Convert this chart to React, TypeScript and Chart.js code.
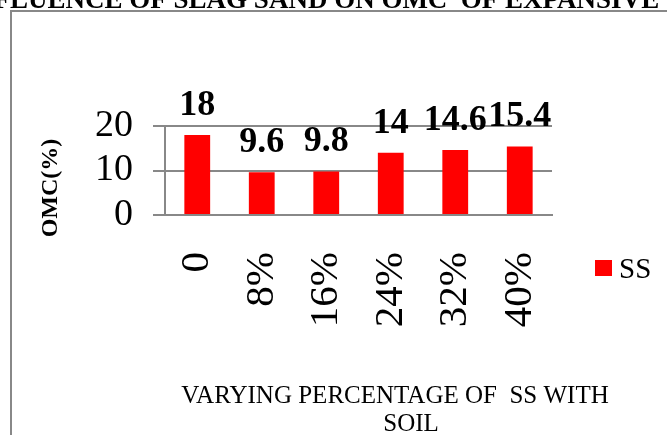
import React, { useEffect, useRef } from "react";
import { Chart, registerables } from "chart.js";

Chart.register(...registerables);

const categories = ["0", "8%", "16%", "24%", "32%", "40%"];
const ssValues = [18, 9.6, 9.8, 14, 14.6, 15.4];
const yMin = 0;
const yMax = 20;
const yStep = 10;
const seriesName = "SS";
const chartTitle = "INFLUENCE OF SLAG SAND ON OMC  OF EXPANSIVE SOIL";
const yTitle = "OMC(%)";
const xTitleLines = ["VARYING PERCENTAGE OF  SS WITH", "SOIL"];

const SERIF = "'Liberation Serif', 'Times New Roman', Times, serif";
const GRAY = "#888888";
const RED = "#FF0000";

const decorPlugin = {
  id: "decor",
  beforeDraw(chart: any) {
    const ctx = chart.ctx;
    ctx.save();
    ctx.strokeStyle = GRAY;
    ctx.lineWidth = 2;
    ctx.beginPath();
    ctx.moveTo(11, 460);
    ctx.lineTo(11, 11);
    ctx.lineTo(700, 11);
    ctx.stroke();
    ctx.fillStyle = "#000";
    ctx.font = `bold 27px ${SERIF}`;
    ctx.textAlign = "center";
    ctx.textBaseline = "alphabetic";
    ctx.fillText(chartTitle, 347, 8);
    ctx.restore();
  },
  afterDatasetsDraw(chart: any) {
    const ctx = chart.ctx;
    const meta = chart.getDatasetMeta(0);
    ctx.save();
    ctx.fillStyle = "#000";
    ctx.font = `bold 36px ${SERIF}`;
    ctx.textAlign = "center";
    ctx.textBaseline = "alphabetic";
    meta.data.forEach((bar: any, i: number) => {
      ctx.fillText(String(ssValues[i]), bar.x, bar.y - 20);
    });
    ctx.restore();
  },
  afterDraw(chart: any) {
    const ctx = chart.ctx;
    ctx.save();
    // y axis title
    ctx.fillStyle = "#000";
    ctx.font = `bold 24px ${SERIF}`;
    ctx.textAlign = "center";
    ctx.textBaseline = "middle";
    ctx.translate(51, 188);
    ctx.rotate(-Math.PI / 2);
    ctx.fillText(yTitle, 0, 0);
    ctx.restore();

    // x axis title
    ctx.save();
    ctx.fillStyle = "#000";
    ctx.font = `25px ${SERIF}`;
    ctx.textAlign = "center";
    ctx.textBaseline = "alphabetic";
    ctx.fillText(xTitleLines[0], 395, 403);
    ctx.fillText(xTitleLines[1], 411, 431);
    ctx.restore();

    // legend
    ctx.save();
    ctx.fillStyle = RED;
    ctx.fillRect(595, 260, 17, 16);
    ctx.fillStyle = "#000";
    ctx.font = `29px ${SERIF}`;
    ctx.textAlign = "left";
    ctx.textBaseline = "alphabetic";
    ctx.fillText(seriesName, 619, 278);
    ctx.restore();
  },
};

export default function App() {
  const ref = useRef<HTMLCanvasElement | null>(null);

  useEffect(() => {
    if (!ref.current) return;
    const chart = new Chart(ref.current, {
      type: "bar",
      data: {
        labels: categories,
        datasets: [
          {
            label: seriesName,
            data: ssValues,
            backgroundColor: RED,
            borderWidth: 0,
            categoryPercentage: 1,
            barPercentage: 0.4,
          },
        ],
      },
      options: {
        responsive: false,
        animation: false,
        devicePixelRatio: 1,
        layout: { padding: { left: 0, top: 126, right: 115, bottom: 0 } },
        plugins: {
          legend: { display: false },
          title: { display: false },
          tooltip: { enabled: false },
        },
        scales: {
          x: {
            grid: { display: false },
            border: { display: true, color: GRAY, width: 2 },
            ticks: {
              autoSkip: false,
              minRotation: 90,
              maxRotation: 90,
              padding: 29,
              color: "#000",
              font: { family: SERIF, size: 41 },
            },
            afterFit: (scale: any) => {
              scale.height = 220;
            },
          },
          y: {
            min: yMin,
            max: yMax,
            grid: { color: GRAY, lineWidth: 2, tickLength: 12, tickColor: GRAY },
            border: { display: true, color: GRAY, width: 2 },
            ticks: {
              stepSize: yStep,
              autoSkip: false,
              padding: 20,
              color: "#000",
              font: { family: SERIF, size: 38 },
            },
            afterFit: (scale: any) => {
              scale.width = 165;
            },
          },
        },
      },
      plugins: [decorPlugin],
    });
    return () => chart.destroy();
  }, []);

  return (
    <canvas
      ref={ref}
      width={667}
      height={435}
      style={{ position: "absolute", left: 0, top: 0, width: 667, height: 435 }}
    />
  );
}
